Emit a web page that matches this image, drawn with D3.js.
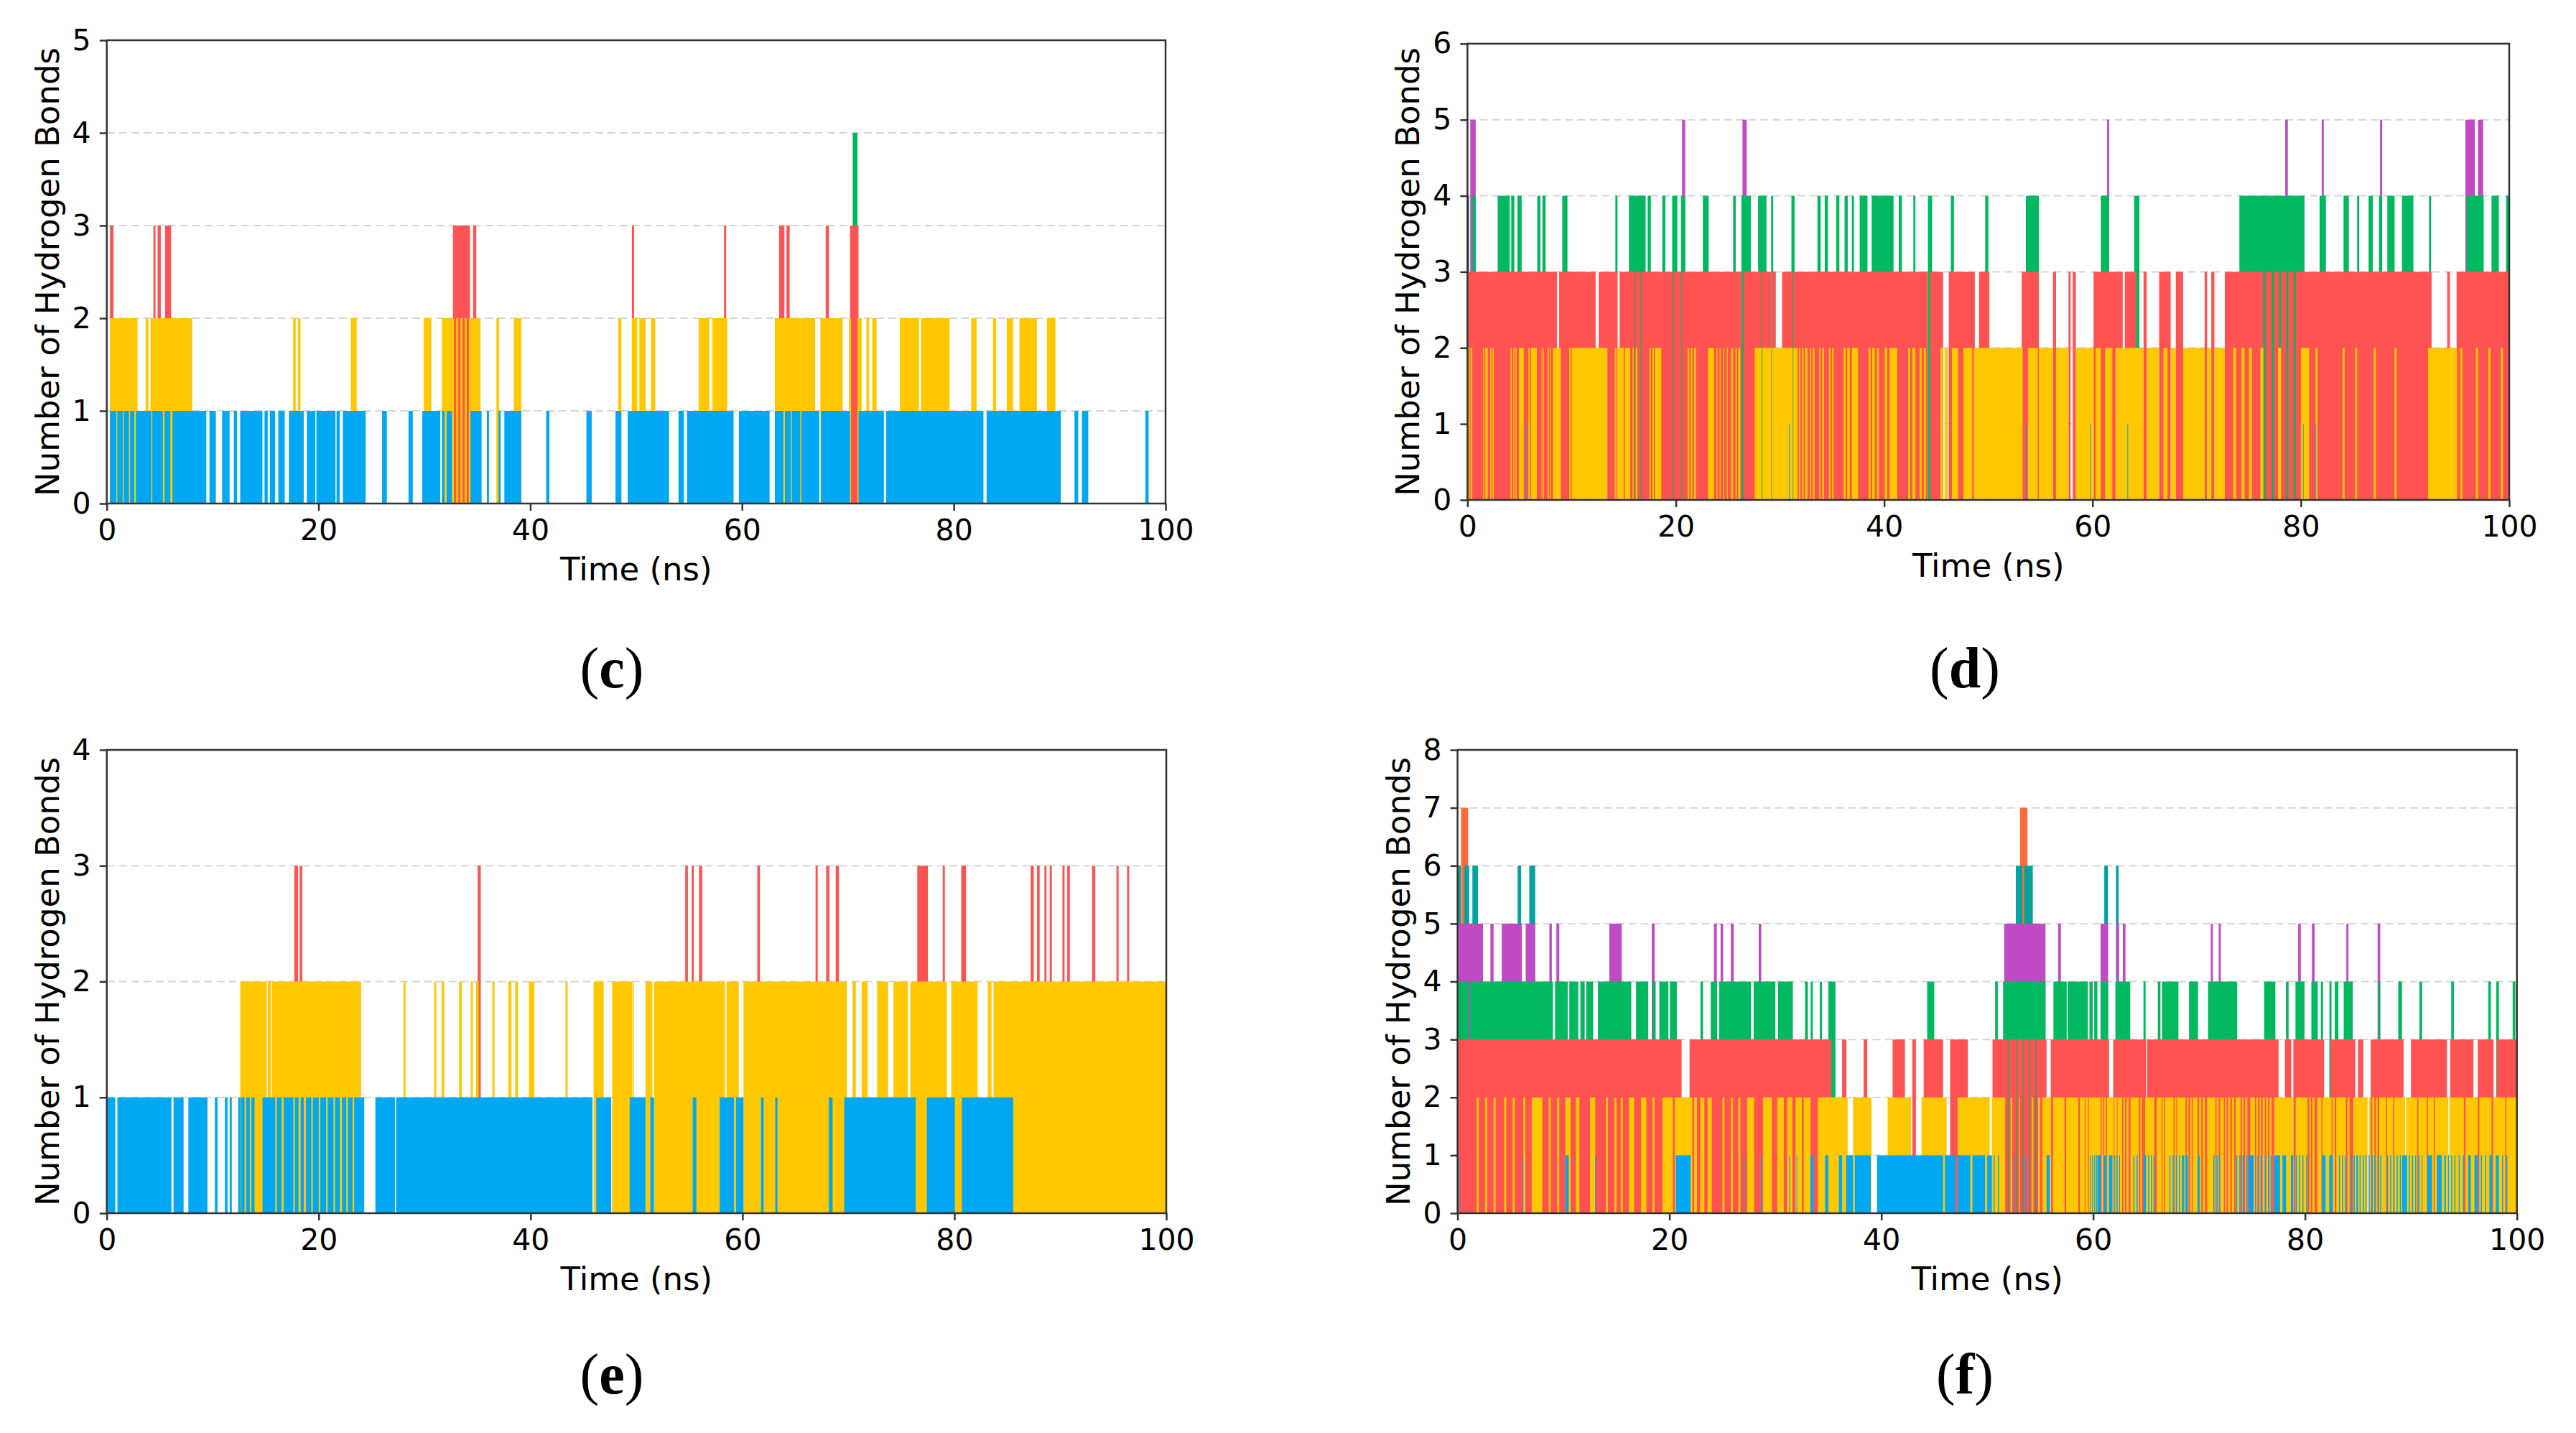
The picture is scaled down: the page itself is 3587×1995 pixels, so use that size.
<!DOCTYPE html>
<html>
<head>
<meta charset="utf-8">
<script src="https://cdn.jsdelivr.net/npm/d3@7.9.0/dist/d3.min.js"></script>
<style>
  body { margin: 0; background: #fff; }
  svg { display: block; }
</style>
</head>
<body>
<svg id="fig" width="3587" height="1995"></svg>
<script>
// colour for each number of hydrogen bonds
const levelColors = { 1: '#00a8f3', 2: '#ffc800', 3: '#ff5252', 4: '#00b85f', 5: '#c04ac4', 6: '#00a39e', 7: '#ff6b38' };
const xTicks = [0, 20, 40, 60, 80, 100];

// time spans (ns) where the frame count equals the level
// panel (c)
const c4 = [[70.45, 70.9]];
const c3 = [[0.3, 0.63], [4.4, 4.6], [4.8, 5.1], [5.5, 6.07], [32.7, 34.3], [34.6, 34.9], [49.6, 49.8], [58.3, 58.5], [63.5, 64.0], [64.2, 64.5], [67.9, 68.2], [70.2, 71.0]];
const c2 = [[0.3, 2.9], [3.67, 3.93], [4.13, 8.06], [17.6, 17.85], [18.05, 18.3], [23.05, 23.6], [29.95, 30.65], [31.65, 32.8], [33.0, 33.2], [33.4, 33.6], [33.8, 34.0], [34.2, 35.3], [36.8, 37.05], [38.45, 39.15], [48.3, 48.6], [49.6, 50.1], [50.3, 50.9], [51.4, 51.8], [55.9, 56.9], [57.2, 58.6], [63.1, 66.9], [67.4, 69.5], [70.1, 70.3], [70.9, 71.3], [71.75, 72.0], [72.3, 72.7], [74.9, 76.7], [76.9, 79.6], [81.65, 82.15], [83.7, 84.0], [85.0, 85.6], [86.2, 87.85], [88.8, 89.6]];
const c1 = [[0.3, 0.9], [1.0, 1.5], [1.6, 2.1], [2.2, 2.6], [2.75, 4.2], [4.3, 5.3], [5.45, 6.0], [6.2, 9.4], [9.7, 10.3], [10.9, 11.6], [12.0, 12.3], [12.6, 14.7], [14.9, 15.2], [15.4, 15.9], [16.2, 16.8], [17.2, 18.6], [18.9, 19.7], [19.8, 21.6], [21.7, 22.0], [22.3, 24.45], [26.0, 26.45], [28.5, 28.9], [29.8, 31.5], [31.65, 31.9], [32.1, 32.6], [34.35, 35.4], [35.9, 36.1], [37.0, 37.2], [37.55, 39.15], [41.5, 41.8], [45.3, 45.8], [48.05, 48.6], [49.2, 53.1], [54.0, 54.5], [54.8, 59.2], [59.7, 62.6], [63.1, 63.9], [64.05, 64.6], [64.7, 65.5], [65.6, 67.3], [67.45, 70.2], [71.0, 73.4], [73.6, 82.8], [83.1, 90.1], [91.4, 91.75], [92.1, 92.7], [98.1, 98.4]];

// panel (d)
const d5 = [[0.27, 0.79], [20.6, 20.9], [26.4, 26.8], [61.4, 61.6], [78.5, 78.75], [82.0, 82.2], [87.6, 87.8], [95.8, 96.7], [97.0, 97.5]];
const d4 = [[0, 0.17], [0.5, 0.8], [2.9, 4.05], [4.2, 4.5], [4.8, 5.2], [6.7, 7.0], [7.2, 7.5], [9.1, 9.6], [14.2, 14.4], [15.5, 17.1], [17.3, 17.6], [18.7, 19.0], [19.65, 20.15], [20.5, 20.9], [22.6, 23.15], [25.5, 25.75], [26.3, 27.2], [27.9, 28.7], [29.15, 29.35], [31.1, 31.4], [33.6, 33.9], [34.3, 34.6], [35.4, 35.7], [36.2, 36.5], [36.9, 37.1], [37.65, 38.4], [38.8, 40.9], [41.4, 41.7], [42.8, 43.0], [44.2, 44.6], [46.4, 46.7], [49.7, 50.0], [53.6, 54.85], [60.8, 61.6], [64.0, 64.5], [74.1, 80.35], [81.8, 82.4], [84.1, 84.6], [85.4, 85.6], [86.5, 86.9], [87.5, 87.8], [88.3, 89.0], [89.7, 90.8], [92.3, 92.5], [95.9, 97.55], [98.3, 99.0], [99.7, 100]];
const d3v = [[0, 8.6], [8.8, 12.3], [12.6, 14.4], [14.6, 16.05], [16.12, 16.63], [16.7, 19.73], [19.8, 20.54], [20.6, 26.3], [26.5, 28.23], [28.3, 29.15], [29.22, 29.6], [30.2, 31.22], [31.29, 44.2], [44.4, 45.65], [46.2, 48.7], [49.1, 50.1], [53.2, 54.85], [56.2, 56.5], [57.7, 57.9], [58.1, 58.4], [60.1, 62.9], [63.1, 64.2], [64.9, 65.2], [66.4, 67.5], [68.0, 68.7], [70.76, 71.0], [71.4, 71.7], [72.7, 76.4], [76.6, 77.2], [77.4, 77.9], [78.1, 78.6], [78.8, 79.3], [79.5, 92.55], [94.05, 94.3], [94.95, 100]];
const d2 = [[0.11, 0.2], [0.3, 0.46], [1.49, 1.6], [1.72, 1.95], [2.18, 2.3], [2.4, 2.52], [4.13, 4.25], [4.4, 4.5], [4.6, 4.71], [4.94, 5.4], [5.85, 6.0], [6.1, 6.66], [7.12, 7.2], [7.28, 7.35], [7.69, 7.8], [7.9, 8.0], [8.2, 8.96], [9.76, 9.9], [10.0, 13.44], [14.13, 14.3], [14.4, 15.0], [15.1, 15.62], [15.85, 15.95], [16.15, 16.31], [17.46, 17.6], [17.75, 17.9], [18.0, 18.61], [21.14, 21.3], [21.45, 21.6], [21.75, 21.94], [23.09, 23.67], [23.9, 24.0], [24.2, 24.3], [24.55, 24.65], [24.9, 25.0], [25.3, 25.5], [25.73, 25.85], [26.0, 26.19], [27.57, 28.23], [28.3, 29.15], [29.22, 31.22], [31.29, 31.7], [31.82, 31.95], [32.1, 32.25], [32.4, 32.63], [32.86, 33.0], [33.15, 33.32], [33.77, 33.9], [34.05, 34.23], [34.7, 34.85], [35.0, 35.15], [36.1, 36.3], [36.45, 36.7], [36.9, 37.5], [38.5, 38.7], [38.85, 39.1], [39.3, 39.5], [40.05, 40.3], [40.5, 41.25], [42.3, 42.5], [42.7, 43.0], [43.4, 43.6], [43.8, 44.0], [45.4, 45.6], [45.8, 46.1], [46.5, 47.1], [47.6, 48.45], [48.6, 53.3], [53.8, 54.75], [54.85, 56.2], [56.5, 57.7], [58.4, 60.1], [60.3, 60.8], [61.2, 61.9], [62.2, 64.9], [65.2, 66.4], [66.8, 67.2], [67.5, 68.0], [68.7, 70.76], [71.0, 71.4], [71.7, 72.7], [73.5, 73.8], [74.3, 74.6], [75.0, 75.3], [76.1, 76.4], [77.8, 78.1], [80.0, 80.8], [81.4, 81.6], [84.0, 84.2], [85.2, 85.4], [87.0, 87.2], [89.0, 89.2], [92.2, 95.0], [95.3, 95.5], [96.8, 97.0], [98.0, 98.2], [99.2, 99.4]];
const d1 = [[5.65, 5.72], [30.85, 30.92], [53.65, 53.72], [59.75, 59.82], [63.35, 63.42], [80.2, 80.27], [81.4, 81.47]];

// panel (e)
const e3 = [[17.7, 18.05], [18.2, 18.45], [35.0, 35.3], [54.6, 54.85], [55.2, 55.4], [55.9, 56.2], [61.4, 61.65], [66.9, 67.1], [67.9, 68.2], [68.8, 69.1], [76.5, 77.5], [78.9, 79.1], [80.65, 81.1], [87.2, 87.5], [87.8, 88.05], [88.5, 88.7], [89.0, 89.2], [90.2, 90.4], [90.65, 90.9], [93.0, 93.3], [95.3, 95.5], [96.3, 96.5]];
const e2 = [[12.6, 15.1], [15.2, 15.5], [15.6, 24.0], [28.0, 28.2], [30.9, 31.1], [31.6, 31.85], [33.25, 33.5], [34.35, 34.55], [34.85, 35.1], [36.4, 36.6], [37.9, 38.2], [38.55, 38.8], [39.85, 40.35], [43.3, 43.5], [45.95, 46.9], [47.7, 49.6], [49.65, 49.75], [50.85, 51.5], [51.65, 58.35], [58.5, 59.65], [60.1, 69.85], [70.4, 70.7], [71.25, 71.8], [72.7, 73.75], [74.25, 75.6], [75.85, 79.3], [79.7, 82.2], [83.15, 83.5], [83.7, 100]];
const e1 = [[0.07, 0.8], [1.0, 6.1], [6.3, 7.25], [7.7, 9.5], [10.2, 10.45], [11.15, 11.4], [11.6, 11.8], [12.4, 12.65], [12.7, 13.0], [13.15, 13.5], [13.65, 13.95], [14.7, 15.9], [16.05, 16.5], [16.7, 17.6], [17.75, 18.1], [18.3, 18.6], [18.8, 19.3], [19.45, 20.0], [20.15, 20.7], [20.85, 21.4], [21.55, 22.0], [22.2, 22.6], [22.75, 23.2], [23.35, 24.3], [25.35, 27.2], [27.3, 45.85], [46.2, 47.6], [49.35, 50.85], [51.3, 51.65], [55.3, 55.65], [57.85, 59.2], [59.4, 60.1], [61.75, 62.0], [63.1, 63.3], [68.15, 68.5], [69.6, 76.35], [77.4, 80.05], [80.7, 85.55]];

// panel (f)
const f7 = [[0.33, 1.0], [53.1, 53.8]];
const f6 = [[0.07, 0.3], [0.65, 1.1], [1.4, 1.93], [5.67, 6.0], [6.77, 7.33], [52.7, 53.3], [53.5, 54.3], [61.05, 61.4], [62.15, 62.4]];
const f5 = [[0.07, 2.4], [3.1, 3.4], [4.17, 6.07], [6.43, 7.33], [8.67, 8.9], [9.33, 9.6], [14.33, 15.5], [18.33, 18.6], [24.2, 24.47], [24.83, 25.07], [25.8, 26.07], [28.43, 28.67], [51.6, 55.5], [56.7, 56.95], [60.7, 61.4], [62.2, 62.45], [62.8, 63.05], [71.1, 71.3], [71.85, 72.05], [79.35, 79.6], [80.65, 80.9], [83.9, 84.1], [86.85, 87.1]];
const f4 = [[0.07, 1.0], [1.13, 9.0], [9.2, 10.4], [10.55, 11.4], [11.6, 12.0], [12.15, 12.8], [13.25, 16.4], [16.85, 18.0], [18.4, 18.7], [19.05, 19.9], [20.05, 20.7], [22.93, 23.17], [23.9, 24.5], [24.7, 27.7], [27.95, 30.0], [30.25, 31.65], [32.8, 33.07], [33.33, 33.53], [34.2, 34.4], [35.0, 35.67], [44.33, 45.0], [50.75, 51.0], [51.5, 55.5], [56.25, 57.5], [57.6, 59.5], [59.65, 59.95], [60.1, 60.4], [60.7, 61.4], [62.1, 63.5], [64.75, 64.95], [66.1, 66.35], [66.5, 68.05], [69.05, 69.9], [70.85, 73.6], [76.15, 77.2], [78.2, 78.45], [79.1, 79.95], [80.6, 81.2], [81.5, 81.7], [82.3, 82.5], [82.8, 83.15], [83.65, 84.5], [86.9, 87.1], [88.8, 89.15], [90.8, 91.05], [93.8, 94.05], [97.3, 97.55], [98.05, 98.3], [99.6, 99.85]];
const f3 = [[0.07, 21.15], [21.9, 35.3], [36.3, 36.7], [38.33, 38.67], [41.07, 42.23], [42.93, 43.27], [44.0, 45.83], [46.5, 48.17], [50.5, 51.95], [52.03, 52.75], [52.83, 53.35], [53.43, 53.95], [54.03, 54.55], [54.63, 55.6], [56.0, 61.5], [61.9, 65.0], [65.1, 77.5], [78.1, 78.7], [78.9, 81.8], [82.4, 84.75], [85.0, 85.5], [86.2, 89.3], [90.0, 93.4], [93.7, 95.9], [96.3, 97.8], [98.1, 100]];
const f2 = [[1.8, 2.0], [2.6, 2.8], [3.4, 3.6], [4.4, 4.6], [5.2, 5.4], [6.2, 6.4], [7.0, 8.0], [8.6, 8.8], [9.4, 9.6], [10.17, 10.67], [11.17, 11.5], [12.5, 13.0], [14.0, 14.2], [14.8, 15.0], [15.4, 15.6], [16.17, 16.67], [17.33, 17.83], [18.4, 18.6], [19.33, 20.33], [20.5, 22.17], [22.33, 22.6], [22.9, 23.3], [23.6, 24.0], [25.0, 25.2], [25.8, 26.0], [26.5, 26.7], [27.33, 28.0], [28.83, 29.67], [30.17, 30.8], [31.1, 31.6], [31.9, 32.5], [32.67, 33.33], [34.0, 36.83], [37.33, 39.07], [40.6, 42.8], [43.8, 46.17], [47.2, 50.23], [50.45, 51.7], [52.2, 52.35], [53.0, 53.1], [54.2, 54.35], [54.8, 55.0], [55.2, 56.0], [56.2, 57.3], [57.45, 58.6], [58.75, 59.2], [59.27, 59.52], [59.6, 60.7], [60.8, 60.95], [61.05, 61.2], [61.3, 61.94], [62.0, 62.25], [62.3, 62.73], [62.85, 63.0], [63.15, 63.35], [63.52, 64.31], [64.45, 64.6], [64.9, 65.78], [66.0, 66.46], [66.55, 66.7], [66.8, 67.59], [67.7, 67.85], [67.93, 68.72], [68.85, 69.0], [69.15, 69.3], [69.4, 69.85], [70.0, 70.2], [70.35, 70.55], [70.75, 71.54], [71.65, 71.85], [72.0, 72.33], [72.45, 72.6], [72.75, 72.95], [73.1, 73.3], [73.46, 73.92], [74.05, 74.2], [74.35, 74.55], [74.82, 75.27], [75.4, 75.55], [75.7, 75.85], [76.0, 76.2], [76.35, 76.5], [76.65, 76.85], [77.08, 78.89], [79.11, 80.24], [80.4, 80.55], [80.7, 80.9], [81.15, 81.55], [81.65, 82.5], [82.6, 82.8], [82.95, 83.86], [84.0, 84.2], [84.54, 85.9], [86.05, 86.2], [86.35, 86.55], [86.7, 86.85], [87.0, 87.65], [87.75, 88.33], [88.43, 89.45], [89.55, 90.6], [90.7, 91.5], [91.6, 92.15], [92.25, 93.53], [93.63, 95.0], [95.15, 96.3], [96.45, 97.6], [97.75, 98.9], [99.0, 100]];
const f1 = [[0.07, 0.15], [6.15, 6.22], [10.17, 10.5], [13.0, 13.07], [20.6, 22.0], [27.0, 27.07], [28.65, 28.72], [31.3, 31.37], [32.0, 32.07], [33.3, 33.6], [34.7, 35.0], [36.0, 36.3], [36.67, 37.33], [37.5, 39.0], [39.6, 45.83], [46.0, 47.0], [47.2, 48.4], [48.6, 49.8], [50.0, 50.45], [50.6, 50.7], [51.0, 51.1], [52.5, 52.58], [53.6, 53.68], [55.6, 55.9], [59.7, 59.78], [59.9, 59.98], [60.1, 60.18], [60.28, 60.36], [60.4, 60.7], [61.03, 61.26], [61.49, 61.82], [62.0, 62.08], [62.2, 62.28], [62.45, 62.53], [63.8, 63.9], [64.1, 64.2], [64.76, 65.0], [65.2, 65.3], [65.45, 65.55], [65.7, 65.8], [67.2, 67.3], [67.5, 67.6], [67.8, 67.9], [68.1, 68.2], [68.38, 68.6], [68.72, 68.94], [69.85, 70.07], [71.35, 71.45], [71.65, 71.75], [71.9, 72.0], [73.5, 73.6], [73.8, 73.9], [74.1, 74.2], [74.45, 74.55], [74.7, 75.16], [75.5, 75.6], [75.8, 75.9], [76.2, 76.3], [76.5, 76.6], [76.75, 76.85], [77.08, 77.64], [77.87, 78.21], [78.66, 78.89], [79.15, 79.25], [79.45, 79.55], [79.75, 79.85], [80.1, 80.2], [81.6, 81.94], [82.28, 82.62], [83.2, 83.3], [83.5, 83.6], [83.75, 83.85], [84.35, 84.45], [84.6, 84.7], [84.85, 85.0], [85.15, 85.25], [85.45, 85.55], [85.7, 85.8], [86.0, 86.1], [86.3, 86.4], [86.55, 86.65], [86.85, 86.95], [87.1, 87.2], [87.75, 87.85], [88.05, 88.15], [88.35, 88.45], [88.65, 88.75], [88.95, 89.05], [89.17, 89.62], [89.8, 89.9], [90.1, 90.2], [90.4, 90.5], [90.7, 90.8], [91.0, 91.08], [91.54, 91.99], [92.45, 92.9], [93.15, 93.3], [93.5, 93.6], [93.8, 93.9], [94.1, 94.2], [94.5, 94.6], [94.9, 95.0], [95.4, 95.65], [96.0, 96.3], [96.6, 96.7], [97.0, 97.1], [97.4, 97.65], [98.0, 98.3], [98.6, 98.7], [99.0, 99.1]];

const panels = [
  { tag: 'c', yMax: 5, levels: { 1: c1, 2: c2, 3: c3, 4: c4 }, box: [148.7, 56, 1623, 701], tagPos: [852, 957] },
  { tag: 'd', yMax: 6, levels: { 1: d1, 2: d2, 3: d3v, 4: d4, 5: d5 }, box: [2043.4, 60.8, 3494, 696], tagPos: [2736, 957] },
  { tag: 'e', yMax: 4, levels: { 1: e1, 2: e2, 3: e3 }, box: [148.7, 1044, 1624, 1689], tagPos: [852, 1940] },
  { tag: 'f', yMax: 8, levels: { 1: f1, 2: f2, 3: f3, 4: f4, 5: f5, 6: f6, 7: f7 }, box: [2029.6, 1044, 3504.7, 1689], tagPos: [2736, 1940] }
];

const svg = d3.select('#fig');
const font = 'DejaVu Sans, sans-serif';

panels.forEach(p => {
  const [x0, y0, x1, y1] = p.box;
  const x = d3.scaleLinear().domain([0, 100]).range([x0, x1]);
  const y = d3.scaleLinear().domain([0, p.yMax]).range([y1, y0]);
  const g = svg.append('g');

  // dashed grid sits behind the bars
  g.append('g').selectAll('line')
    .data(d3.range(1, p.yMax))
    .join('line')
    .attr('x1', x0).attr('x2', x1)
    .attr('y1', d => y(d)).attr('y2', d => y(d))
    .attr('stroke', '#d6d6d6')
    .attr('stroke-width', 2)
    .attr('stroke-dasharray', '11 6');

  // higher counts first, lower ones drawn on top
  Object.keys(p.levels).map(Number).sort((a, b) => b - a).forEach(level => {
    g.append('g').selectAll('rect')
      .data(p.levels[level])
      .join('rect')
      .attr('x', d => x(d[0]))
      .attr('width', d => x(d[1]) - x(d[0]))
      .attr('y', y(level))
      .attr('height', y(0) - y(level))
      .attr('fill', levelColors[level]);
  });

  const xAxis = g.append('g')
    .attr('transform', `translate(0,${y1})`)
    .call(d3.axisBottom(x).tickValues(xTicks).tickSize(10).tickPadding(12));
  const yAxis = g.append('g')
    .attr('transform', `translate(${x0},0)`)
    .call(d3.axisLeft(y).tickValues(d3.range(0, p.yMax + 1)).tickSize(10).tickPadding(12).tickFormat(d3.format('d')));

  [xAxis, yAxis].forEach(a => {
    a.select('.domain').remove();
    a.selectAll('line').attr('stroke', '#333').attr('stroke-width', 2.5);
    a.selectAll('text').attr('font-size', 41).attr('font-family', font).attr('fill', '#000');
  });

  // frame
  g.append('rect')
    .attr('x', x0).attr('y', y0)
    .attr('width', x1 - x0).attr('height', y1 - y0)
    .attr('fill', 'none')
    .attr('stroke', '#333')
    .attr('stroke-width', 2.5);

  g.append('text')
    .attr('x', (x0 + x1) / 2).attr('y', y1 + 107)
    .attr('text-anchor', 'middle')
    .attr('font-family', font).attr('font-size', 45)
    .text('Time (ns)');

  g.append('text')
    .attr('transform', `translate(${x0 - 67},${(y0 + y1) / 2}) rotate(-90)`)
    .attr('text-anchor', 'middle')
    .attr('font-family', font).attr('font-size', 45)
    .text('Number of Hydrogen Bonds');

  const tag = g.append('text')
    .attr('x', p.tagPos[0]).attr('y', p.tagPos[1])
    .attr('text-anchor', 'middle')
    .attr('font-family', 'Liberation Serif, serif').attr('font-size', 80);
  tag.append('tspan').text('(');
  tag.append('tspan').attr('font-weight', 'bold').text(p.tag);
  tag.append('tspan').text(')');
});
</script>
</body>
</html>
